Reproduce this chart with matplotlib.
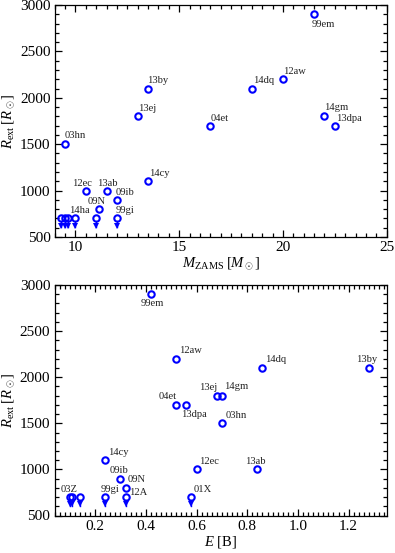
import matplotlib
matplotlib.use("Agg")
import matplotlib.pyplot as plt
from matplotlib.ticker import MultipleLocator

plt.rcParams['font.family'] = ['Liberation Serif', 'DejaVu Serif']
plt.rcParams['mathtext.fontset'] = 'custom'
plt.rcParams['mathtext.rm'] = 'Liberation Serif'
plt.rcParams['mathtext.it'] = 'Liberation Serif:italic'
plt.rcParams['mathtext.bf'] = 'Liberation Serif:bold'

# ---------------- data ----------------
# Top panel: detections
top_names = ['99em', '12aw', '14dq', '14gm', '13dpa', '04et', '13by', '13ej',
             '03hn', '14cy', '12ec', '13ab', '09ib', '09N']
top_mzams = [21.5, 20.0, 18.5, 22.0, 22.5, 16.5, 13.5, 13.0,
             9.5, 13.5, 10.5, 11.5, 12.0, 11.15]
top_rext = [2900, 2200, 2100, 1800, 1700, 1700, 2100, 1800,
            1500, 1100, 1000, 1000, 900, 800]
# Top panel: upper limits
top_lim_names = ['', '', '', '14ha', '', '99gi']
top_lim_mzams = [9.3, 9.48, 9.66, 10.0, 11.0, 12.0]
top_lim_rext = [700, 700, 700, 700, 700, 700]

# Bottom panel: detections
bot_names = ['99em', '12aw', '04et', '13dpa', '13ej', '14gm', '14dq', '13by',
             '03hn', '12ec', '13ab', '14cy', '09ib', '09N']
bot_e = [0.42, 0.52, 0.52, 0.56, 0.68, 0.70, 0.86, 1.28,
         0.70, 0.60, 0.84, 0.24, 0.30, 0.32]
bot_rext = [2900, 2200, 1700, 1700, 1800, 1800, 2100, 2100,
            1500, 1000, 1000, 1100, 900, 800]
# Bottom panel: upper limits
bot_lim_names = ['03Z', '', '', '99gi', '12A', '01X']
bot_lim_e = [0.10, 0.11, 0.14, 0.24, 0.32, 0.58]
bot_lim_rext = [700, 700, 700, 700, 700, 700]

# ---------------- label offsets (pixels: dx, dy) ----------------
top_off = {'99em': (-2, -10), '12aw': (0, 8), '14dq': (1, 8), '14gm': (0, 9),
           '13dpa': (1, 7.5), '04et': (0, 7.5), '13by': (-1, 8), '13ej': (0, 7.5),
           '03hn': (0, 8.5), '14cy': (1, 8), '12ec': (-14, 7.5), '13ab': (-10, 7.5),
           '09ib': (-1.5, 7.5), '09N': (-12, 7.5), '14ha': (-6.5, 7.5), '99gi': (-1, 7.5)}
bot_off = {'99em': (-10, -9.5), '12aw': (2.5, 8), '04et': (-18, 8), '13dpa': (-5, -9.5),
           '13ej': (-17.5, 8), '14gm': (2.5, 9.5), '14dq': (2.5, 8), '13by': (-12.5, 8),
           '03hn': (3.5, 8), '12ec': (3, 8), '13ab': (-12.5, 8), '14cy': (2.5, 8),
           '09ib': (-10.5, 8), '09N': (2.5, 8), '12A': (3.5, 4.5), '99gi': (-4.5, 8),
           '03Z': (-9.5, 8), '01X': (2.5, 8)}

blue = '#0000ff'
fig = plt.figure(figsize=(3.95, 5.53), dpi=100)
ax1 = fig.add_axes([54.7 / 395, 1 - 237 / 553, (386.7 - 54.7) / 395, (237 - 5) / 553])
ax2 = fig.add_axes([54.5 / 395, 1 - 515.5 / 553, (386.7 - 54.5) / 395, (515.5 - 285) / 553])


def draw(ax, xs, ys, names, lxs, lys, lnames, offs):
    ax.plot(xs, ys, 'o', mfc='none', mec=blue, mew=1.5, ms=4.6, zorder=3)
    ax.plot(lxs, lys, 'o', mfc='none', mec=blue, mew=1.5, ms=4.6, zorder=3)
    for x, y in zip(lxs, lys):
        ax.plot([x, x], [y - 30, y - 95], '-', color=blue, lw=1.0, zorder=2)
        ax.plot([x], [y - 78], 'v', color=blue, ms=4.2, mew=0, zorder=2)
    for n, x, y in list(zip(names, xs, ys)) + list(zip(lnames, lxs, lys)):
        if not n:
            continue
        dx, dy = offs[n]
        ax.annotate(n, (x, y), xytext=(dx, dy), textcoords='offset pixels',
                    ha='left', va='center', fontsize=7.6, color='#222222')


draw(ax1, top_mzams, top_rext, top_names, top_lim_mzams, top_lim_rext, top_lim_names, top_off)
draw(ax2, bot_e, bot_rext, bot_names, bot_lim_e, bot_lim_rext, bot_lim_names, bot_off)

ax1.set_xlim(9, 25)
ax1.xaxis.set_major_locator(MultipleLocator(5))
ax1.xaxis.set_minor_locator(MultipleLocator(0.5))
ax2.set_xlim(0.04, 1.35)
ax2.xaxis.set_major_locator(MultipleLocator(0.2))
ax2.xaxis.set_minor_locator(MultipleLocator(0.02))
ax2.xaxis.set_major_formatter(matplotlib.ticker.FormatStrFormatter('%.1f'))

for ax in (ax1, ax2):
    ax.set_ylim(500, 3000)
    ax.yaxis.set_major_locator(MultipleLocator(500))
    ax.yaxis.set_minor_locator(MultipleLocator(100))
    ax.tick_params(which='both', direction='in', top=True, right=True, width=0.9,
                   labelsize=11, pad=3)
    ax.tick_params(which='major', length=5)
    ax.tick_params(which='minor', length=3)
    for s in ax.spines.values():
        s.set_linewidth(0.9)
    ax.set_ylabel(r'$R_{\rm ext}\;[R_\odot]$', fontsize=10.5, labelpad=2)

ax1.set_xlabel(r'$M_{\rm ZAMS}\;[M_\odot]$', fontsize=10.5, labelpad=1)
ax2.set_xlabel(r'$E$ [B]', fontsize=10.5, labelpad=1)

fig.savefig('out.png', dpi=100)
